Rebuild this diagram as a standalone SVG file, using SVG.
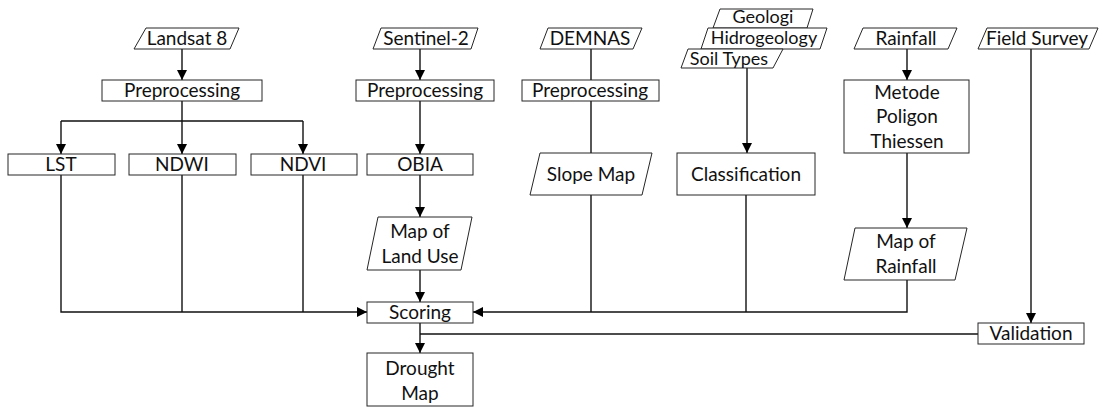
<svg xmlns="http://www.w3.org/2000/svg" width="1103" height="408" viewBox="0 0 1103 408">
<style>
.b{fill:#fff;stroke:#262626;stroke-width:1}
.t{font-family:Lato,"Liberation Sans",sans-serif;font-size:19px;fill:#111;text-anchor:middle}
.s{font-size:18px}
.c{fill:none;stroke:#111;stroke-width:1.4}
</style>
<defs>
<marker id="a" markerUnits="userSpaceOnUse" markerWidth="12" markerHeight="12" viewBox="0 0 12 12" refX="10" refY="6" orient="auto">
<path d="M0,1 L10,6 L0,11 Z" fill="#000"/>
</marker>
</defs>
<rect width="1103" height="408" fill="#fff"/>
<g id="connectors">
<path class="c" d="M182,49 V80" marker-end="url(#a)"/>
<path class="c" d="M182,101 V121 M61,121 H303"/>
<path class="c" d="M61,121 V154" marker-end="url(#a)"/>
<path class="c" d="M182,121 V154" marker-end="url(#a)"/>
<path class="c" d="M303,121 V154" marker-end="url(#a)"/>
<path class="c" d="M182,175 V312 M303,175 V312"/>
<path class="c" d="M61,175 V312 H367" marker-end="url(#a)"/>
<path class="c" d="M420,49 V80" marker-end="url(#a)"/>
<path class="c" d="M420,101 V154" marker-end="url(#a)"/>
<path class="c" d="M420,175 V217" marker-end="url(#a)"/>
<path class="c" d="M420,270 V302" marker-end="url(#a)"/>
<path class="c" d="M591,49 V80 M591,101 V153 M591,195 V312 M746,195 V312"/>
<path class="c" d="M747,68 V153" marker-end="url(#a)"/>
<path class="c" d="M907,49 V80" marker-end="url(#a)"/>
<path class="c" d="M907,153 V228" marker-end="url(#a)"/>
<path class="c" d="M907,280 V312 H473" marker-end="url(#a)"/>
<path class="c" d="M1031,49 V323" marker-end="url(#a)"/>
<path class="c" d="M978,334 H420"/>
<path class="c" d="M420,323 V353" marker-end="url(#a)"/>
</g>
<g id="landsat"><polygon class="b" points="146,28 239,28 230,49 134,49"/><text class="t" x="187" y="45">Landsat 8</text></g>
<g id="pre1"><rect class="b" x="102" y="80" width="160" height="21"/><text class="t" x="182" y="97">Preprocessing</text></g>
<g id="lst"><rect class="b" x="8" y="154" width="107" height="21"/><text class="t" x="61" y="171">LST</text></g>
<g id="ndwi"><rect class="b" x="129" y="154" width="107" height="21"/><text class="t" x="182" y="171">NDWI</text></g>
<g id="ndvi"><rect class="b" x="251" y="154" width="106" height="21"/><text class="t" x="303" y="171">NDVI</text></g>
<g id="sentinel"><polygon class="b" points="381,28 478,28 471,49 373,49"/><text class="t" x="426" y="45">Sentinel-2</text></g>
<g id="pre2"><rect class="b" x="356" y="80" width="138" height="21"/><text class="t" x="425" y="97">Preprocessing</text></g>
<g id="obia"><rect class="b" x="367" y="154" width="106" height="21"/><text class="t" x="420" y="171">OBIA</text></g>
<g id="landuse"><polygon class="b" points="378,217 472,217 461,270 367,270"/><text class="t" x="420" y="238">Map of</text><text class="t" x="420" y="263">Land Use</text></g>
<g id="scoring"><rect class="b" x="367" y="302" width="106" height="21"/><text class="t" x="420" y="319">Scoring</text></g>
<g id="drought"><rect class="b" x="367" y="353" width="106" height="53"/><text class="t" x="420" y="375">Drought</text><text class="t" x="420" y="400">Map</text></g>
<g id="demnas"><polygon class="b" points="548,28 642,28 633,49 540,49"/><text class="t" x="590" y="45">DEMNAS</text></g>
<g id="pre3"><rect class="b" x="522" y="80" width="137" height="21"/><text class="t" x="590" y="97">Preprocessing</text></g>
<g id="slope"><polygon class="b" points="540,153 652,153 642,195 530,195"/><text class="t" x="591" y="181">Slope Map</text></g>
<g id="geologi"><polygon class="b" points="720,9 813,9 807,28 713,28"/><text class="t s" x="763" y="23">Geologi</text></g>
<g id="hidro"><polygon class="b" points="708,28 827,28 820,49 701,49"/><text class="t s" x="764" y="44">Hidrogeology</text></g>
<g id="soil"><polygon class="b" points="688,49 783,49 773,68 681,68"/><text class="t s" x="729" y="65">Soil Types</text></g>
<g id="classification"><rect class="b" x="677" y="153" width="138" height="42"/><text class="t" x="746" y="181">Classification</text></g>
<g id="rainfall"><polygon class="b" points="863,28 957,28 948,49 854,49"/><text class="t" x="906" y="45">Rainfall</text></g>
<g id="thiessen"><rect class="b" x="844" y="80" width="125" height="73"/><text class="t" x="907" y="99">Metode</text><text class="t" x="907" y="123">Poligon</text><text class="t" x="907" y="148">Thiessen</text></g>
<g id="maprain"><polygon class="b" points="855,228 967,228 955,280 844,280"/><text class="t" x="906" y="248">Map of</text><text class="t" x="906" y="273">Rainfall</text></g>
<g id="field"><polygon class="b" points="987,28 1098,28 1089,49 978,49"/><text class="t" x="1037" y="45">Field Survey</text></g>
<g id="validation"><rect class="b" x="978" y="323" width="106" height="21"/><text class="t" x="1031" y="340">Validation</text></g>
</svg>
